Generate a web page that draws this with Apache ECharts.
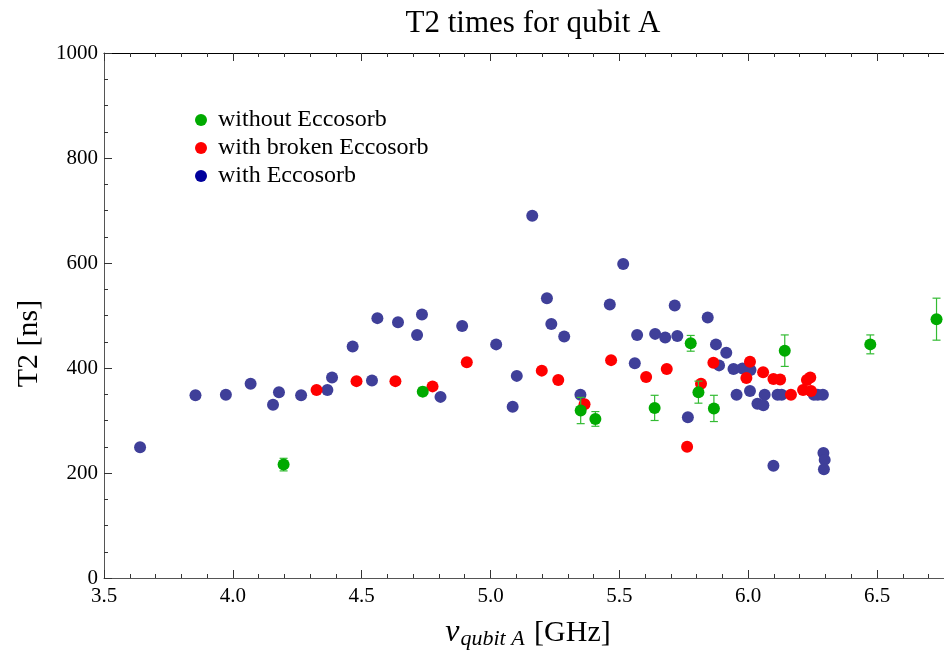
<!DOCTYPE html>
<html>
<head>
<meta charset="utf-8">
<script src="https://cdn.jsdelivr.net/npm/echarts@6/dist/echarts.min.js"></script>
<style>html,body{margin:0;padding:0;background:#fff;}#chart{width:944px;height:655px;}</style>
</head>
<body>
<div id="chart"></div>
<script>
// [frequency GHz, T2 ns]
var withEccosorb = [
  [3.640, 249], [3.855, 348], [3.973, 349], [4.069, 370], [4.156, 330], [4.179, 354],
  [4.265, 348], [4.367, 358], [4.385, 382], [4.465, 441], [4.540, 376], [4.561, 495],
  [4.641, 487], [4.715, 463], [4.734, 502], [4.806, 345], [4.890, 480], [5.022, 445],
  [5.086, 326], [5.102, 385], [5.162, 690], [5.219, 533], [5.236, 484], [5.286, 460],
  [5.349, 349], [5.463, 521], [5.515, 598], [5.560, 409], [5.569, 463], [5.639, 465],
  [5.678, 458], [5.715, 519], [5.725, 461], [5.766, 306], [5.843, 496], [5.875, 445],
  [5.887, 405], [5.915, 429], [5.943, 398], [5.955, 349], [5.978, 399], [6.007, 356],
  [6.009, 396], [6.036, 332], [6.059, 329], [6.064, 349], [6.098, 214], [6.114, 349],
  [6.130, 349], [6.255, 349], [6.270, 349], [6.290, 349], [6.292, 238], [6.297, 225],
  [6.294, 207]
];
var withBrokenEccosorb = [
  [4.325, 358], [4.480, 375], [4.631, 375], [4.775, 365], [4.908, 411], [5.199, 395],
  [5.263, 377], [5.365, 331], [5.468, 415], [5.604, 383], [5.684, 398], [5.763, 250],
  [5.817, 370], [5.865, 410], [5.993, 381], [6.007, 412], [6.058, 392], [6.098, 379],
  [6.124, 378], [6.166, 349], [6.213, 358], [6.228, 377], [6.241, 382], [6.244, 356]
];
// [frequency GHz, T2 ns, error ns]
var withoutEccosorb = [
  [4.197, 216, 12], [4.737, 355, 8], [5.350, 319, 25], [5.407, 303, 14], [5.637, 324, 24],
  [5.777, 447, 15], [5.807, 354, 21], [5.867, 323, 25], [6.142, 433, 30], [6.474, 445, 18],
  [6.731, 493, 40]
];
var seriesNames = ['without Eccosorb', 'with broken Eccosorb', 'with Eccosorb'];
var xTicks = [3.5, 4.0, 4.5, 5.0, 5.5, 6.0, 6.5];
var yTicks = [0, 200, 400, 600, 800, 1000];

var FONT = '"Liberation Serif", "DejaVu Serif", serif';
var chart = echarts.init(document.getElementById('chart'), null, {renderer: 'canvas'});

var errData = withoutEccosorb.map(function (d) { return [d[0], d[1] - d[2], d[1] + d[2]]; });

var axisLineStyle = {color: '#555', width: 1};
var option = {
  backgroundColor: '#fff',
  animation: false,
  title: {
    text: 'T2 times for qubit A',
    left: 528, top: 3, textAlign: 'center',
    textStyle: {fontFamily: FONT, fontSize: 31, fontWeight: 'normal', color: '#000'}
  },
  legend: {
    orient: 'vertical', left: 190, top: 101,
    itemWidth: 12, itemHeight: 12, itemGap: 0,
    icon: 'circle',
    textStyle: {fontFamily: FONT, fontSize: 24, color: '#000', lineHeight: 28, padding: [0, 0, 0, 6]},
    data: [
      {name: seriesNames[0], itemStyle: {color: '#00aa00', opacity: 1}},
      {name: seriesNames[1], itemStyle: {color: '#ff0000', opacity: 1}},
      {name: seriesNames[2], itemStyle: {color: '#00009c', opacity: 1}}
    ]
  },
  grid: {left: 104, right: 0, top: 53, bottom: 77},
  xAxis: [{
    type: 'value', min: 3.5, max: 6.76, interval: 0.5,
    position: 'bottom',
    name: '{nu|ν}{sub|qubit A} [GHz]',
    nameLocation: 'middle', nameGap: 38,
    nameTextStyle: {fontFamily: FONT, fontSize: 30, color: '#000', padding: [0, 0, 0, 8],
      rich: {
        nu: {fontFamily: FONT, fontSize: 32, fontStyle: 'italic', color: '#000'},
        sub: {fontFamily: FONT, fontSize: 22, fontStyle: 'italic', color: '#000', verticalAlign: 'bottom', padding: [12, 2, 0, 1]}
      }},
    axisLine: {show: true, onZero: false, lineStyle: axisLineStyle},
    axisTick: {show: true, inside: true, length: 8, lineStyle: {color: '#333'}},
    minorTick: {show: true, splitNumber: 5, length: 4, lineStyle: {color: '#333'}},
    axisLabel: {fontFamily: FONT, fontSize: 21, color: '#000', margin: 8,
      showMaxLabel: false,
      formatter: function (v) { return xTicks.indexOf(+v.toFixed(1)) >= 0 ? v.toFixed(1) : ''; }},
    splitLine: {show: false}
  }, {
    type: 'value', min: 3.5, max: 6.76, interval: 0.5,
    position: 'top',
    axisLine: {show: true, onZero: false, lineStyle: {color: '#000', width: 1}},
    axisTick: {show: true, inside: true, length: 8, lineStyle: {color: '#333'}},
    minorTick: {show: true, splitNumber: 5, length: 4, lineStyle: {color: '#333'}},
    axisLabel: {show: false},
    splitLine: {show: false}
  }],
  yAxis: {
    type: 'value', min: 0, max: 1000, interval: 200,
    name: 'T2 [ns]', nameLocation: 'middle', nameGap: 60, nameRotate: 90,
    nameTextStyle: {fontFamily: FONT, fontSize: 30, color: '#000', padding: [0, 56, 0, 0]},
    axisLine: {show: true, onZero: false, lineStyle: axisLineStyle},
    axisTick: {show: true, inside: true, length: 8, lineStyle: {color: '#333'}},
    minorTick: {show: true, splitNumber: 4, length: 4, lineStyle: {color: '#333'}},
    axisLabel: {fontFamily: FONT, fontSize: 21, color: '#000', margin: 6,
      formatter: function (v) { return yTicks.indexOf(v) >= 0 ? String(v) : ''; }},
    splitLine: {show: false}
  },
  series: [
    {
      name: seriesNames[2], type: 'scatter', data: withEccosorb,
      symbol: 'circle', symbolSize: 12, itemStyle: {color: '#3f3f99', opacity: 1}, z: 2
    },
    {
      name: seriesNames[1], type: 'scatter', data: withBrokenEccosorb,
      symbol: 'circle', symbolSize: 12, itemStyle: {color: '#ff0000', opacity: 1}, z: 3
    },
    {
      name: 'errorbars', type: 'custom', data: errData, z: 4,
      renderItem: function (params, api) {
        var x = api.value(0);
        var lo = api.coord([x, api.value(1)]);
        var hi = api.coord([x, api.value(2)]);
        var hw = 4;
        var st = {stroke: '#33bb33', lineWidth: 1.2};
        return {type: 'group', children: [
          {type: 'line', shape: {x1: lo[0], y1: lo[1], x2: hi[0], y2: hi[1]}, style: st},
          {type: 'line', shape: {x1: lo[0] - hw, y1: lo[1], x2: lo[0] + hw, y2: lo[1]}, style: st},
          {type: 'line', shape: {x1: hi[0] - hw, y1: hi[1], x2: hi[0] + hw, y2: hi[1]}, style: st}
        ]};
      },
      encode: {x: 0, y: [1, 2]},
      silent: true
    },
    {
      name: seriesNames[0], type: 'scatter', data: withoutEccosorb.map(function (d) { return [d[0], d[1]]; }),
      symbol: 'circle', symbolSize: 12, itemStyle: {color: '#00aa00', opacity: 1}, z: 5
    }
  ]
};
chart.setOption(option);
</script>
</body>
</html>
